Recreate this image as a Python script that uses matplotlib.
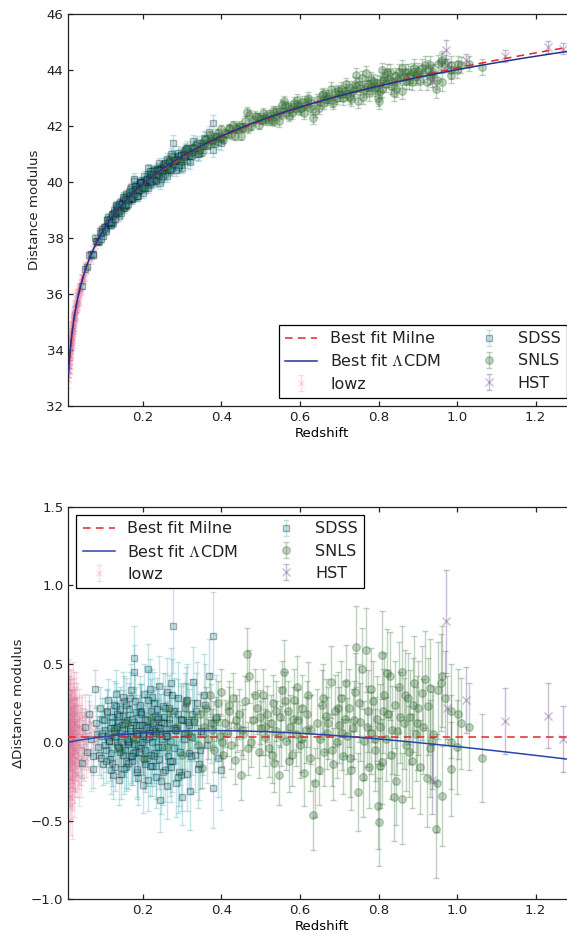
import numpy as np
import matplotlib.pyplot as plt

plt.rcParams['font.family'] = ['DejaVu Sans']
plt.rcParams['mathtext.fontset'] = 'cm'
plt.rcParams['lines.scale_dashes'] = False

C_KMS = 299792.458
H0 = 70.0

# best fit parameters (residuals are taken w.r.t. an empty universe, H0=70)
MILNE_OFFSET = 0.035
LCDM_OM = 0.37
LCDM_OFFSET = -0.004

# ---- lowz ----
lowz_z = [0.010, 0.010, 0.011, 0.011, 0.012, 0.012, 0.013, 0.013, 0.014, 0.014,
          0.015, 0.015, 0.016, 0.016, 0.017, 0.017, 0.018, 0.018, 0.019, 0.019,
          0.020, 0.020, 0.021, 0.021, 0.022, 0.022, 0.023, 0.024, 0.024, 0.025,
          0.025, 0.026, 0.027, 0.027, 0.028, 0.029, 0.030, 0.030, 0.031, 0.032,
          0.033, 0.034, 0.035, 0.036, 0.037, 0.038, 0.040, 0.041, 0.043, 0.045,
          0.047, 0.050, 0.053, 0.056, 0.060, 0.064, 0.068, 0.073, 0.078, 0.084,
          0.010, 0.011, 0.012, 0.013, 0.014, 0.015, 0.016, 0.017, 0.018, 0.019,
          0.020, 0.021, 0.022, 0.023, 0.024, 0.025, 0.026, 0.028, 0.029, 0.031,
          0.033, 0.035, 0.037, 0.039, 0.042, 0.044, 0.046, 0.049, 0.055, 0.062]
lowz_dmu = [0.12, -0.25, 0.05, -0.10, 0.30, -0.02, 0.18, -0.35, 0.08, -0.15,
            0.22, 0.00, -0.28, 0.14, -0.06, 0.26, 0.03, -0.18, 0.10, -0.40,
            0.16, -0.08, 0.32, -0.12, 0.06, 0.20, -0.22, 0.02, 0.12, -0.30,
            0.24, -0.05, 0.08, -0.16, 0.18, 0.01, -0.10, 0.28, 0.04, -0.20,
            0.14, -0.02, 0.10, -0.26, 0.20, 0.06, -0.08, 0.15, -0.14, 0.09,
            0.02, -0.12, 0.18, 0.05, -0.06, 0.12, -0.18, 0.08, 0.00, 0.10,
            -0.05, 0.20, -0.18, 0.09, 0.26, -0.22, 0.04, 0.15, -0.08, 0.22,
            -0.25, 0.07, -0.14, 0.28, -0.03, 0.11, 0.19, -0.20, 0.13, -0.07,
            0.24, -0.16, 0.03, 0.10, -0.22, 0.17, -0.04, 0.06, -0.10, 0.14]
lowz_err = [0.25, 0.26, 0.22, 0.24, 0.23, 0.20, 0.22, 0.24, 0.20, 0.21,
            0.20, 0.18, 0.21, 0.19, 0.18, 0.20, 0.17, 0.19, 0.18, 0.22,
            0.17, 0.16, 0.19, 0.17, 0.16, 0.18, 0.17, 0.15, 0.16, 0.18,
            0.17, 0.15, 0.15, 0.16, 0.16, 0.14, 0.15, 0.17, 0.14, 0.15,
            0.14, 0.13, 0.14, 0.15, 0.14, 0.13, 0.13, 0.14, 0.13, 0.13,
            0.12, 0.13, 0.13, 0.12, 0.12, 0.12, 0.13, 0.12, 0.11, 0.12,
            0.24, 0.22, 0.23, 0.21, 0.21, 0.20, 0.19, 0.19, 0.18, 0.18,
            0.18, 0.17, 0.17, 0.17, 0.16, 0.16, 0.16, 0.15, 0.15, 0.15,
            0.14, 0.14, 0.14, 0.14, 0.13, 0.13, 0.13, 0.13, 0.12, 0.12]

# ---- SDSS ----
sdss_z = [0.044, 0.052, 0.058, 0.063, 0.068, 0.072, 0.073, 0.077, 0.081, 0.085,
          0.090, 0.094, 0.098, 0.102, 0.106, 0.110, 0.113, 0.117, 0.120, 0.124,
          0.127, 0.130, 0.133, 0.136, 0.139, 0.142, 0.145, 0.148, 0.151, 0.154,
          0.157, 0.160, 0.163, 0.166, 0.169, 0.172, 0.175, 0.177, 0.177, 0.180,
          0.183, 0.186, 0.189, 0.192, 0.195, 0.198, 0.201, 0.204, 0.207, 0.210,
          0.213, 0.216, 0.219, 0.222, 0.225, 0.228, 0.231, 0.234, 0.237, 0.240,
          0.243, 0.246, 0.249, 0.252, 0.255, 0.258, 0.261, 0.264, 0.267, 0.270,
          0.273, 0.277, 0.280, 0.283, 0.286, 0.290, 0.294, 0.298, 0.300, 0.304,
          0.308, 0.312, 0.316, 0.320, 0.324, 0.328, 0.332, 0.337, 0.342, 0.348,
          0.355, 0.362, 0.368, 0.374, 0.378, 0.379, 0.385, 0.392, 0.400,
          0.083, 0.088, 0.096, 0.104, 0.108, 0.115, 0.122, 0.128, 0.134, 0.141,
          0.146, 0.152, 0.158, 0.164, 0.170, 0.176, 0.182, 0.188, 0.194, 0.200,
          0.206, 0.212, 0.218, 0.224, 0.230, 0.236, 0.242, 0.248, 0.254, 0.260,
          0.266, 0.272, 0.278, 0.284, 0.292, 0.302, 0.310, 0.318, 0.326, 0.335,
          0.092, 0.100, 0.112, 0.119, 0.126, 0.132, 0.138, 0.144, 0.150, 0.156,
          0.162, 0.168, 0.174, 0.181, 0.187, 0.193, 0.199, 0.205, 0.211, 0.217,
          0.223, 0.229, 0.235, 0.241, 0.247, 0.253, 0.259, 0.265, 0.271, 0.279,
          0.288, 0.296, 0.306, 0.315, 0.345, 0.358,
          0.095, 0.105, 0.109, 0.114, 0.118, 0.121, 0.125, 0.129, 0.131, 0.135,
          0.137, 0.140, 0.143, 0.147, 0.149, 0.153, 0.155, 0.159, 0.161, 0.165,
          0.167, 0.171, 0.173, 0.178, 0.179, 0.184, 0.185, 0.190, 0.191, 0.196,
          0.197, 0.202, 0.203, 0.208, 0.209, 0.214, 0.215, 0.220, 0.221, 0.226,
          0.227, 0.232, 0.233, 0.238, 0.239, 0.244, 0.250, 0.256, 0.262, 0.268,
          0.274, 0.282, 0.289, 0.297, 0.305, 0.313, 0.322, 0.331, 0.340, 0.352]
sdss_dmu = [-0.13, 0.10, -0.06, 0.18, 0.02, -0.09, -0.17, 0.34, 0.12, -0.03,
            0.22, 0.04, -0.14, 0.08, -0.05, 0.27, 0.01, -0.11, 0.16, -0.21,
            0.07, 0.31, -0.02, 0.12, -0.24, 0.21, 0.00, -0.08, 0.26, 0.05,
            -0.16, 0.14, -0.01, 0.09, 0.33, -0.12, 0.03, 0.54, 0.45, -0.06,
            0.19, -0.19, 0.06, 0.24, -0.04, 0.11, -0.27, 0.15, 0.02, -0.10,
            0.465, 0.08, -0.15, 0.29, 0.04, -0.07, 0.17, -0.22, 0.10, 0.36,
            -0.37, 0.13, -0.03, 0.23, -0.18, 0.06, 0.32, -0.09, 0.15, 0.01,
            -0.12, 0.74, 0.20, -0.26, 0.09, 0.28, -0.06, 0.14, -0.35, 0.05,
            0.22, -0.20, 0.11, -0.31, 0.18, 0.385, -0.08, 0.25, -0.14, 0.07,
            0.30, -0.02, 0.42, 0.12, 0.68, -0.29, 0.16, -0.10, -0.18,
            0.05, -0.08, 0.15, -0.02, 0.20, 0.09, -0.13, 0.03, 0.18, -0.06,
            0.11, -0.17, 0.24, 0.00, -0.09, 0.13, 0.06, -0.23, 0.19, 0.04,
            -0.05, 0.27, 0.10, -0.15, 0.07, 0.21, -0.11, 0.02, 0.16, -0.28,
            0.12, 0.38, -0.04, 0.08, -0.19, 0.14, 0.26, -0.07, 0.03, 0.20,
            -0.10, 0.14, 0.03, -0.18, 0.09, 0.23, -0.04, 0.06, 0.17, -0.12,
            0.01, 0.28, -0.07, 0.11, -0.02, 0.19, 0.05, -0.14, 0.10, 0.34,
            0.00, -0.09, 0.15, 0.07, -0.25, 0.12, 0.04, 0.22, -0.16, 0.09,
            0.18, -0.21, 0.06, 0.13, -0.05, 0.24,
            0.06, -0.12, 0.19, 0.01, -0.07, 0.13, 0.24, -0.16, 0.04, 0.10,
            -0.03, 0.17, -0.20, 0.08, 0.29, -0.05, 0.12, 0.02, -0.13, 0.21,
            0.07, -0.09, 0.15, -0.01, 0.26, -0.17, 0.05, 0.11, -0.06, 0.18,
            0.00, 0.31, -0.11, 0.09, 0.14, -0.24, 0.03, 0.20, -0.08, 0.12,
            0.25, -0.15, 0.06, 0.16, -0.03, 0.09, -0.19, 0.22, 0.04, -0.12,
            0.30, 0.08, -0.22, 0.15, 0.02, 0.27, -0.09, 0.13, -0.17, 0.05]
sdss_err = [0.10, 0.11, 0.10, 0.12, 0.11, 0.12, 0.12, 0.12, 0.11, 0.12,
            0.13, 0.12, 0.13, 0.12, 0.14, 0.13, 0.12, 0.14, 0.13, 0.15,
            0.13, 0.15, 0.14, 0.13, 0.16, 0.14, 0.15, 0.13, 0.16, 0.14,
            0.15, 0.14, 0.16, 0.15, 0.17, 0.15, 0.16, 0.20, 0.17, 0.15,
            0.16, 0.17, 0.15, 0.18, 0.16, 0.17, 0.18, 0.16, 0.17, 0.18,
            0.16, 0.17, 0.19, 0.18, 0.17, 0.19, 0.18, 0.20, 0.18, 0.19,
            0.20, 0.18, 0.19, 0.21, 0.20, 0.19, 0.22, 0.20, 0.21, 0.19,
            0.20, 0.30, 0.21, 0.22, 0.20, 0.23, 0.21, 0.22, 0.18, 0.23,
            0.22, 0.24, 0.23, 0.25, 0.22, 0.22, 0.24, 0.26, 0.23, 0.25,
            0.26, 0.24, 0.24, 0.25, 0.28, 0.26, 0.27, 0.25, 0.25,
            0.12, 0.13, 0.13, 0.14, 0.14, 0.14, 0.15, 0.15, 0.15, 0.16,
            0.16, 0.16, 0.17, 0.16, 0.17, 0.17, 0.18, 0.17, 0.18, 0.18,
            0.18, 0.19, 0.18, 0.19, 0.19, 0.20, 0.19, 0.20, 0.20, 0.21,
            0.20, 0.22, 0.21, 0.21, 0.22, 0.23, 0.22, 0.23, 0.24, 0.24,
            0.13, 0.14, 0.14, 0.15, 0.15, 0.15, 0.16, 0.16, 0.16, 0.17,
            0.17, 0.17, 0.18, 0.17, 0.18, 0.18, 0.19, 0.18, 0.19, 0.19,
            0.20, 0.19, 0.20, 0.20, 0.21, 0.20, 0.21, 0.21, 0.22, 0.21,
            0.22, 0.23, 0.23, 0.24, 0.25, 0.26,
            0.13, 0.14, 0.14, 0.14, 0.15, 0.14, 0.15, 0.15, 0.15, 0.16,
            0.15, 0.16, 0.16, 0.16, 0.16, 0.17, 0.16, 0.17, 0.17, 0.17,
            0.17, 0.18, 0.17, 0.18, 0.18, 0.18, 0.18, 0.19, 0.18, 0.19,
            0.19, 0.19, 0.19, 0.20, 0.19, 0.20, 0.20, 0.20, 0.20, 0.21,
            0.20, 0.21, 0.21, 0.21, 0.21, 0.22, 0.21, 0.22, 0.22, 0.22,
            0.23, 0.22, 0.23, 0.23, 0.24, 0.23, 0.24, 0.25, 0.25, 0.26]

# ---- SNLS ----
snls_z = [0.125, 0.145, 0.160, 0.180, 0.200, 0.220, 0.240, 0.260, 0.270, 0.285,
          0.300, 0.310, 0.320, 0.330, 0.340,
          0.350, 0.355, 0.360, 0.365, 0.370, 0.375, 0.380, 0.385, 0.390, 0.395,
          0.400, 0.405, 0.410, 0.415, 0.420, 0.425, 0.430, 0.434, 0.440, 0.445,
          0.450, 0.455, 0.460, 0.465, 0.470, 0.475, 0.480, 0.490, 0.495, 0.500,
          0.505, 0.510, 0.515, 0.520, 0.525, 0.530, 0.534, 0.540, 0.547, 0.550,
          0.555, 0.559, 0.565, 0.570, 0.575, 0.580, 0.585, 0.590, 0.595, 0.600,
          0.605, 0.610, 0.615, 0.620, 0.625, 0.632, 0.638, 0.643, 0.650, 0.655,
          0.660, 0.665, 0.670, 0.678, 0.685, 0.690, 0.695, 0.700,
          0.705, 0.710, 0.715, 0.720, 0.725, 0.730, 0.735, 0.740, 0.743, 0.748,
          0.752, 0.757, 0.762, 0.768, 0.772, 0.776, 0.780, 0.785, 0.790, 0.795,
          0.798, 0.801, 0.805, 0.808, 0.810, 0.815, 0.820, 0.825, 0.829, 0.833,
          0.839, 0.843, 0.848, 0.853, 0.859, 0.859, 0.865, 0.870, 0.875, 0.880,
          0.885, 0.890, 0.895, 0.900,
          0.910, 0.914, 0.923, 0.926, 0.930, 0.931, 0.935, 0.946, 0.948, 0.952,
          0.960, 0.961, 0.961, 0.984, 0.984, 0.985, 0.999, 1.003, 1.031, 1.063,
          0.315, 0.345, 0.378, 0.402, 0.418, 0.438, 0.452, 0.468, 0.485, 0.498,
          0.512, 0.528, 0.538, 0.552, 0.562, 0.572, 0.582, 0.592, 0.602, 0.618,
          0.628, 0.648, 0.658, 0.672, 0.682, 0.698, 0.708, 0.718, 0.728, 0.738,
          0.750, 0.760, 0.770, 0.782, 0.792, 0.803, 0.812, 0.822, 0.835, 0.845,
          0.855, 0.868, 0.878, 0.888, 0.898, 0.905, 0.918, 0.940, 0.970, 1.010]
snls_dmu = [0.08, -0.05, 0.12, 0.02, -0.10, 0.15, 0.05, -0.03, 0.20, 0.10,
            -0.08, 0.25, 0.04, 0.14, -0.02,
            -0.165, 0.10, 0.22, 0.02, 0.30, 0.08, -0.05, 0.15, 0.25, 0.04,
            0.32, -0.08, 0.12, 0.06, 0.20, -0.02, 0.28, -0.115, 0.10, 0.18,
            -0.21, 0.05, 0.26, 0.56, 0.42, 0.00, 0.14, 0.22, -0.06, 0.09,
            0.30, 0.03, 0.18, -0.04, 0.12, 0.25, -0.135, 0.07, -0.21, 0.16,
            0.33, 0.45, 0.01, 0.20, 0.10, -0.08, 0.27, 0.05, 0.14, -0.02,
            0.22, -0.195, 0.08, 0.30, -0.10, -0.465, -0.26, 0.12, 0.02, 0.24,
            -0.06, 0.17, 0.06, 0.385, -0.14, 0.20, 0.00, 0.11,
            0.28, -0.09, 0.15, 0.04, 0.22, -0.18, 0.09, 0.32, 0.61, -0.317,
            0.13, 0.47, 0.01, 0.587, 0.20, -0.157, 0.06, 0.26, -0.05, 0.15,
            -0.41, -0.51, 0.10, 0.555, -0.125, 0.30, 0.02, 0.18, 0.42, -0.08,
            -0.35, 0.24, 0.07, 0.35, 0.45, -0.36, 0.12, -0.02, 0.28, 0.16,
            -0.12, 0.38, 0.05, 0.22,
            0.315, 0.10, -0.23, 0.23, 0.345, -0.04, 0.01, -0.555, -0.26, 0.33,
            0.38, 0.42, -0.345, 0.20, 0.00, -0.17, -0.03, 0.18, 0.10, -0.10,
            0.06, 0.18, 0.12, 0.00, 0.24, 0.14, 0.08, -0.04, 0.30, 0.16,
            0.10, -0.08, 0.20, 0.04, 0.26, -0.12, 0.15, 0.35, 0.02, 0.18,
            0.08, -0.18, 0.28, 0.12, -0.05, 0.22, 0.06, 0.38, -0.10, 0.14,
            0.25, -0.22, 0.10, 0.34, 0.02, -0.15, 0.20, 0.44, 0.08, -0.25,
            0.16, 0.30, -0.06, 0.24, 0.12, -0.16, 0.40, 0.05, 0.28, 0.12]
snls_err = [0.10, 0.10, 0.11, 0.11, 0.11, 0.11, 0.12, 0.12, 0.12, 0.12,
            0.12, 0.13, 0.12, 0.13, 0.13,
            0.13, 0.13, 0.13, 0.13, 0.14, 0.13, 0.14, 0.14, 0.14, 0.14,
            0.15, 0.14, 0.15, 0.15, 0.15, 0.15, 0.16, 0.15, 0.16, 0.16,
            0.16, 0.16, 0.16, 0.17, 0.17, 0.16, 0.17, 0.17, 0.17, 0.17,
            0.17, 0.18, 0.18, 0.18, 0.18, 0.18, 0.18, 0.19, 0.19, 0.19,
            0.19, 0.20, 0.19, 0.19, 0.20, 0.20, 0.20, 0.20, 0.20, 0.21,
            0.21, 0.21, 0.21, 0.21, 0.21, 0.22, 0.22, 0.22, 0.22, 0.22,
            0.22, 0.23, 0.23, 0.23, 0.23, 0.23, 0.23, 0.24,
            0.24, 0.24, 0.24, 0.24, 0.25, 0.25, 0.25, 0.25, 0.26, 0.25,
            0.25, 0.26, 0.25, 0.27, 0.26, 0.26, 0.26, 0.26, 0.26, 0.27,
            0.27, 0.28, 0.27, 0.28, 0.27, 0.27, 0.27, 0.28, 0.28, 0.28,
            0.28, 0.28, 0.28, 0.29, 0.29, 0.29, 0.29, 0.29, 0.29, 0.30,
            0.30, 0.30, 0.30, 0.30,
            0.30, 0.30, 0.31, 0.31, 0.31, 0.31, 0.31, 0.31, 0.31, 0.31,
            0.31, 0.32, 0.32, 0.30, 0.30, 0.30, 0.30, 0.29, 0.28, 0.28,
            0.13, 0.13, 0.14, 0.15, 0.15, 0.16, 0.16, 0.17, 0.17, 0.17,
            0.18, 0.18, 0.19, 0.19, 0.19, 0.20, 0.20, 0.20, 0.21, 0.21,
            0.22, 0.22, 0.22, 0.23, 0.23, 0.23, 0.24, 0.24, 0.25, 0.25,
            0.25, 0.26, 0.26, 0.26, 0.27, 0.27, 0.27, 0.28, 0.28, 0.28,
            0.29, 0.29, 0.29, 0.30, 0.30, 0.30, 0.31, 0.31, 0.30, 0.29]

# ---- HST ----
hst_z = [0.935, 0.972, 0.975, 1.022, 1.122, 1.233, 1.270]
hst_dmu = [-0.24, 0.77, 0.22, 0.27, 0.134, 0.17, 0.02]
hst_err = [0.22, 0.33, 0.20, 0.21, 0.21, 0.21, 0.21]


def mu_milne(z):
    z = np.asarray(z, dtype=float)
    return 5 * np.log10(C_KMS / H0 * z * (1 + z / 2)) + 25


def mu_lcdm(z, om):
    z = np.asarray(z, dtype=float)
    grid = np.linspace(0, z.max(), 4000)
    inv_e = 1 / np.sqrt(om * (1 + grid) ** 3 + 1 - om)
    dc = np.concatenate([[0], np.cumsum(0.5 * (inv_e[1:] + inv_e[:-1]) * np.diff(grid))])
    dl = (1 + z) * np.interp(z, grid, dc) * C_KMS / H0
    return 5 * np.log10(dl) + 25


samples = [
    ('lowz', lowz_z, lowz_dmu, lowz_err,
     dict(fmt='x', color='palevioletred', alpha=0.22, ms=4)),
    ('SDSS', sdss_z, sdss_dmu, sdss_err,
     dict(fmt='s', color='#3fa9b3', mec='k', alpha=0.3, ms=5)),
    ('SNLS', snls_z, snls_dmu, snls_err,
     dict(fmt='o', color='#2f6a2f', alpha=0.3, ms=5.5)),
    ('HST', hst_z, hst_dmu, hst_err,
     dict(fmt='x', color='#6a3d8f', alpha=0.35, ms=6)),
]

zline = np.linspace(0.01, 1.3, 600)

fig = plt.figure(figsize=(5.67, 9.36), dpi=100)
left = 68.4 / 567
width = 506.4 / 567
ax1 = fig.add_axes([left, 1 - 406 / 936, width, 392 / 936])
ax2 = fig.add_axes([left, 1 - 899 / 936, width, 392 / 936])

for ax, resid in ((ax1, False), (ax2, True)):
    if resid:
        ym = np.full_like(zline, MILNE_OFFSET)
        yl = mu_lcdm(zline, LCDM_OM) - mu_milne(zline) + LCDM_OFFSET
    else:
        ym = mu_milne(zline) + MILNE_OFFSET
        yl = mu_lcdm(zline, LCDM_OM) + LCDM_OFFSET
    l1, = ax.plot(zline, ym, color='#e3262b', lw=1.1, ls=(0, (5.5, 3.8)),
                  label='Best fit Milne', zorder=5)
    l2, = ax.plot(zline, yl, color='#2a45a8' if resid else '#22338f', lw=1.1,
                  label=r'Best fit $\Lambda$CDM', zorder=5)
    handles = [l1, l2]
    for name, z, dmu, err, kw in samples:
        z = np.asarray(z)
        y = np.asarray(dmu) if resid else mu_milne(z) + np.asarray(dmu)
        eb = ax.errorbar(z, y, yerr=err, capsize=2.3, elinewidth=1, capthick=1,
                         label=name, **kw)
        handles.append(eb)
    ax.set_xlim(0.01, 1.3)
    ax.set_xticks([0.2, 0.4, 0.6, 0.8, 1.0, 1.2])
    ax.set_xlabel('Redshift', fontsize=9.6, labelpad=2)
    ax.tick_params(direction='in', top=True, right=True, length=3.6, width=0.9,
                   labelsize=9.6, pad=3.6, colors='#222222')
    for s in ax.spines.values():
        s.set_linewidth(0.9)
        s.set_color('#222222')
    leg = ax.legend(handles=handles, loc='upper left' if resid else 'lower right',
                    ncol=2, fontsize=11.5, frameon=True, fancybox=False,
                    framealpha=1, edgecolor='k', borderpad=0.4, labelspacing=0.45,
                    handlelength=2, handletextpad=0.8, columnspacing=2.0,
                    borderaxespad=0.5, numpoints=1)
    leg.get_frame().set_linewidth(0.9)
    for t in leg.get_texts():
        t.set_color('#222222')

ax1.set_ylim(32, 46)
ax1.set_yticks(np.arange(32, 47, 2))
ax1.set_ylabel('Distance modulus', fontsize=9.6, color='#222222')
ax2.set_ylim(-1.0, 1.5)
ax2.set_yticks(np.arange(-1.0, 1.51, 0.5))
ax2.set_ylabel('\u0394Distance modulus', fontsize=9.6, color='#222222')

fig.savefig('out.png', dpi=100, facecolor='white')
